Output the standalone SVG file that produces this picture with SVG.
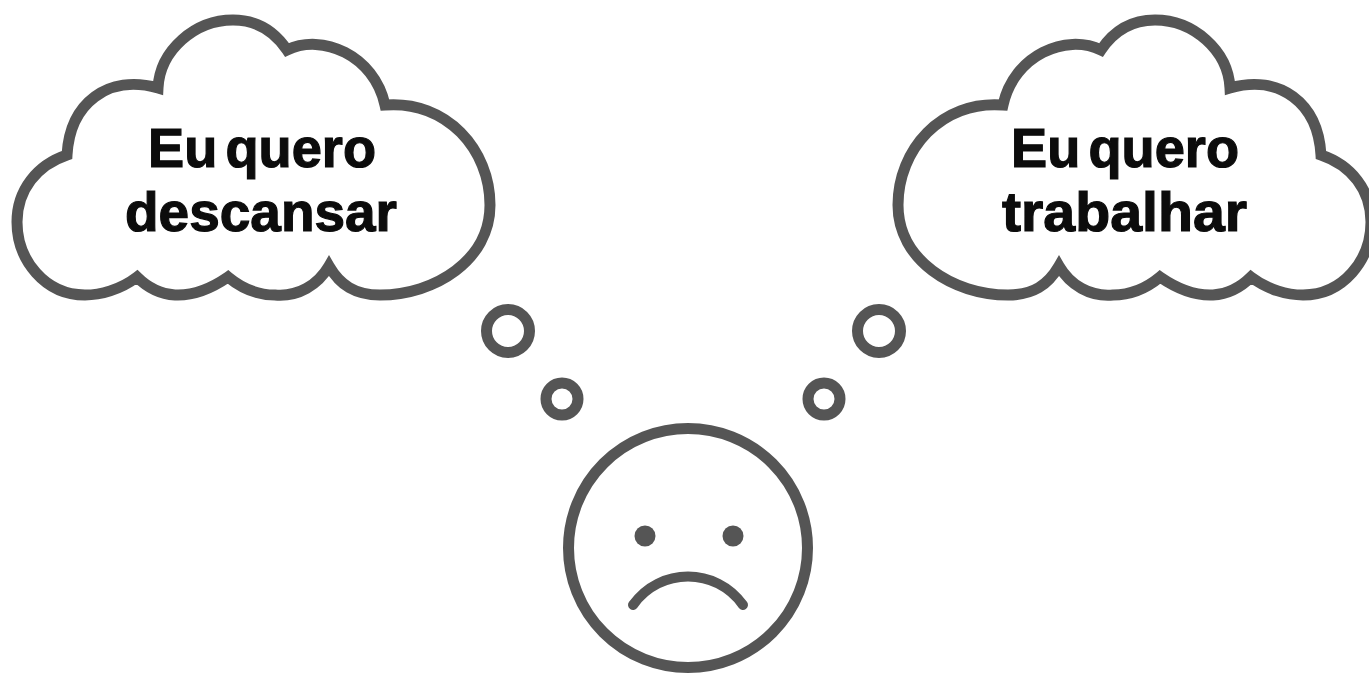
<svg xmlns="http://www.w3.org/2000/svg" width="1369" height="675" viewBox="0 0 1369 675">
<style>
.l{fill:#fff;stroke:#555;stroke-width:11;stroke-linejoin:miter;stroke-linecap:round}
.t{font-family:"Liberation Sans",Arial,sans-serif;font-weight:700;font-size:56px;fill:#0c0c0c;stroke:#0c0c0c;stroke-width:1.2;text-anchor:start;word-spacing:-7px}
.e{fill:#555}
</style>
<defs>
<path id="cloud" d="M67 155C70 103 108 74 158 88C160 50 195 20 233 20C258 20 275 32 287 50C322 33 374 55 385 105C447 100 490 150 490 205C490 260 435 295 380 295C355 295 340 285 329 266C318 285 298 297 275 295C255 295 240 287 228 277C212 288 195 296 175 295C160 294 148 288 137 277C120 290 100 295 85 295C45 295 17 260 17 222C17 190 37 165 67 155Z"/>
</defs>
<rect width="1369" height="675" fill="#fff"/>
<g id="cloud-left">
<use href="#cloud" class="l"/>
<text class="t" x="148" y="167" textLength="228" lengthAdjust="spacingAndGlyphs">Eu quero</text>
<text class="t" x="125" y="231" textLength="272" lengthAdjust="spacingAndGlyphs">descansar</text>
</g>
<g id="cloud-right">
<use href="#cloud" class="l" transform="translate(1388 0) scale(-1 1)"/>
<text class="t" x="1011" y="167" textLength="228" lengthAdjust="spacingAndGlyphs">Eu quero</text>
<text class="t" x="1002" y="231" textLength="245" lengthAdjust="spacingAndGlyphs">trabalhar</text>
</g>
<g id="connectors">
<circle class="l" cx="508" cy="331" r="21.5"/>
<circle class="l" cx="562" cy="399" r="16"/>
<circle class="l" cx="879" cy="331" r="21.5"/>
<circle class="l" cx="824" cy="399" r="16"/>
</g>
<g id="face">
<circle class="l" cx="688" cy="548" r="119.5"/>
<circle class="e" cx="645" cy="536" r="10.5"/>
<circle class="e" cx="733" cy="536" r="10.5"/>
<path d="M633 605C660 567 716 567 743 605" fill="none" stroke="#555" stroke-width="10" stroke-linecap="round"/>
</g>
</svg>
